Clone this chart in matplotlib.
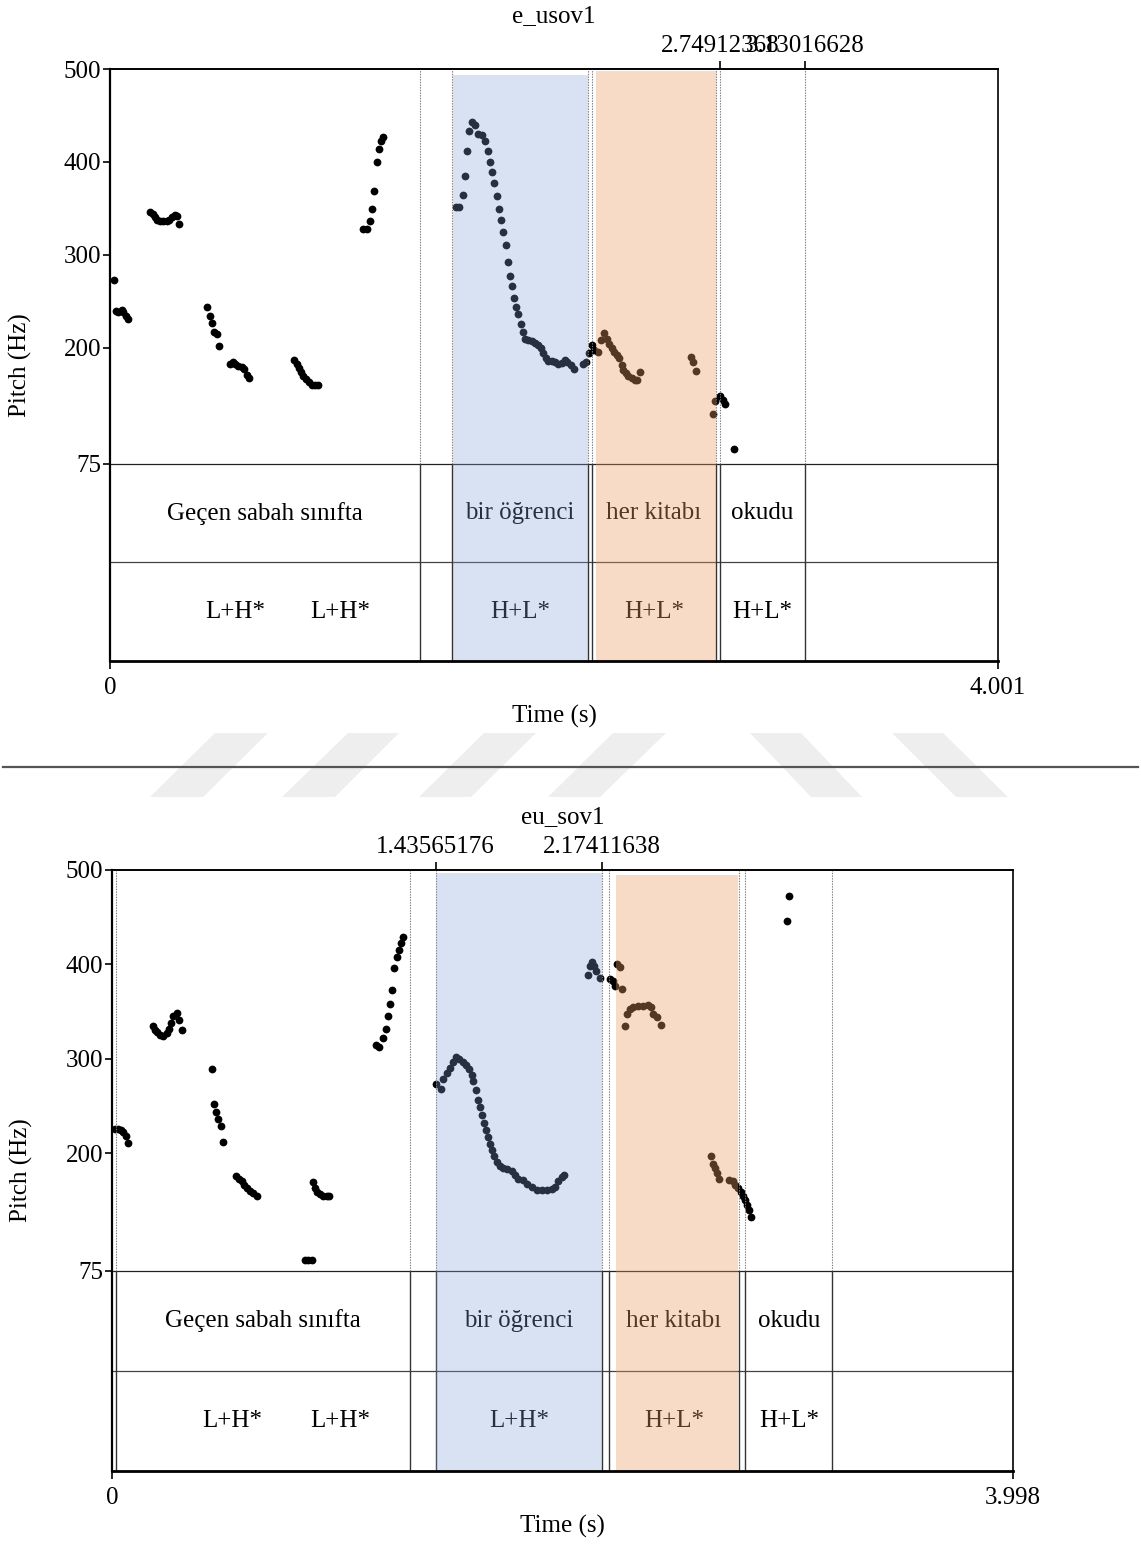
import matplotlib.pyplot as plt
from matplotlib.patches import Rectangle, Polygon

plt.rcParams['font.family'] = ['Liberation Serif', 'DejaVu Serif']
plt.rcParams['font.size'] = 18

# ---------------- data: upper panel (e_usov1) ----------------
top_dur = 4.001
top_t = [0.018, 0.027, 0.037, 0.053, 0.060, 0.072, 0.082,
         0.180, 0.192, 0.203, 0.213, 0.225, 0.240, 0.255, 0.267, 0.278, 0.293, 0.303, 0.311,
         0.438, 0.451, 0.461, 0.470, 0.481, 0.491,
         0.541, 0.553, 0.563, 0.578, 0.593, 0.604, 0.616, 0.626,
         0.829, 0.841, 0.852, 0.861, 0.871, 0.883, 0.897, 0.909, 0.924, 0.939,
         1.141, 1.157, 1.171, 1.182, 1.191, 1.202, 1.212, 1.221, 1.231,
         1.559, 1.574, 1.589, 1.600, 1.610, 1.619, 1.631, 1.645, 1.659, 1.675,
         1.690, 1.702, 1.712, 1.720, 1.730, 1.742, 1.751, 1.760, 1.769, 1.783,
         1.792, 1.801, 1.810, 1.820, 1.829, 1.840, 1.850, 1.859, 1.870, 1.885,
         1.900, 1.915, 1.930, 1.941, 1.952, 1.964, 1.975, 1.990, 2.005, 2.020,
         2.035, 2.050, 2.060, 2.076, 2.091, 2.130, 2.145, 2.158, 2.173, 2.181,
         2.200, 2.212, 2.226, 2.238, 2.250, 2.260, 2.271, 2.283, 2.293, 2.306,
         2.313, 2.325, 2.335, 2.351, 2.365, 2.376, 2.388,
         2.616, 2.628, 2.640, 2.716, 2.726, 2.748, 2.761, 2.772, 2.811]
top_hz = [273, 240, 238, 241, 239, 234, 231,
          346, 344, 341, 338, 336, 336, 336, 338, 341, 343, 342, 333,
          244, 234, 227, 217, 215, 202,
          183, 185, 183, 180, 179, 177, 171, 168,
          187, 183, 178, 174, 170, 166, 163, 160, 160, 160,
          328, 328, 336, 349, 369, 400, 414, 423, 427,
          351, 351, 364, 385, 412, 433, 443, 440, 430, 429,
          423, 412, 400, 389, 377, 363, 349, 337, 325, 311,
          292, 277, 266, 254, 244, 236, 226, 217, 209, 208,
          207, 205, 203, 200, 194, 189, 186, 186, 185, 183,
          184, 187, 185, 182, 177, 183, 185, 194, 203, 198,
          195, 208, 216, 209, 204, 200, 196, 192, 189, 182,
          176, 173, 170, 167, 165, 165, 174,
          190, 185, 175, 129, 143, 148, 144, 140, 91]
top_bounds = [1.397, 1.541, 2.154, 2.172, 2.730, 2.74912368, 3.13016628]
top_words = ["Geçen sabah sınıfta", "bir öğrenci", "her kitabı", "okudu"]
top_word_spans = [(0.0, 1.397), (1.541, 2.154), (2.172, 2.730), (2.749, 3.130)]
top_tones = ["L+H*", "L+H*", "H+L*", "H+L*", "H+L*"]
top_tone_t = [0.563, 1.036, 1.847, 2.451, 2.940]
top_marks = [2.74912368, 3.13016628]
top_mark_labels = ["2.74912368", "3.13016628"]
top_blue = (1.545, 2.154, 493.5)
top_orange = (2.190, 2.730, 497.8)

# ---------------- data: lower panel (eu_sov1) ----------------
bot_dur = 3.998
bot_t = [0.013, 0.028, 0.039, 0.050, 0.062, 0.072,
         0.181, 0.191, 0.201, 0.213, 0.228, 0.243, 0.254, 0.262, 0.272, 0.287, 0.299, 0.312,
         0.442, 0.453, 0.461, 0.472, 0.482, 0.491,
         0.550, 0.565, 0.576, 0.586, 0.598, 0.612, 0.627, 0.642,
         0.856, 0.871, 0.886,
         0.891, 0.901, 0.911, 0.923, 0.938, 0.953, 0.964,
         1.171, 1.186, 1.204, 1.214, 1.223, 1.234, 1.244, 1.253, 1.263, 1.274, 1.283, 1.293,
         1.438, 1.459, 1.470, 1.485, 1.500, 1.512, 1.526, 1.541, 1.556, 1.571,
         1.585, 1.596, 1.603, 1.615, 1.623, 1.633, 1.640, 1.651, 1.660, 1.670,
         1.677, 1.688, 1.696, 1.707, 1.722, 1.736, 1.754, 1.774, 1.788, 1.803,
         1.822, 1.840, 1.862, 1.885, 1.907, 1.929, 1.951, 1.966, 1.980, 1.995, 2.006,
         2.113, 2.121, 2.129, 2.137, 2.146, 2.165,
         2.210, 2.224, 2.232,
         2.242, 2.254, 2.264, 2.276, 2.284, 2.299, 2.313, 2.335, 2.358, 2.380,
         2.392, 2.402, 2.417, 2.435,
         2.657, 2.666, 2.676, 2.686, 2.695, 2.739, 2.754, 2.764,
         2.779, 2.790, 2.799, 2.809, 2.819, 2.828, 2.836,
         2.994, 3.004]
bot_hz = [225, 225, 224, 222, 218, 211,
          335, 330, 328, 325, 324, 327, 332, 338, 345, 348, 341, 330,
          289, 252, 244, 236, 229, 212,
          176, 173, 170, 166, 163, 160, 158, 155,
          87, 87, 87,
          169, 163, 159, 157, 155, 154, 154,
          314, 312, 322, 331, 345, 358, 373, 396, 408, 415, 423, 429,
          273, 268, 279, 285, 290, 297, 302, 300, 297, 293,
          289, 283, 276, 267, 256, 249, 240, 232, 224, 217,
          210, 203, 197, 191, 186, 184, 183, 181, 177, 173,
          171, 167, 164, 161, 161, 161, 162, 164, 170, 175, 177,
          389, 398, 403, 398, 393, 386,
          385, 382, 377,
          400, 397, 374, 335, 347, 353, 355, 356, 356, 357,
          355, 347, 344, 336,
          197, 188, 184, 179, 173, 171, 170, 166,
          163, 159, 155, 150, 145, 140, 132,
          446, 472]
bot_bounds = [0.018, 1.322, 1.43565176, 2.17411638, 2.207, 2.780, 2.811, 3.197]
bot_words = ["Geçen sabah sınıfta", "bir öğrenci", "her kitabı", "okudu"]
bot_word_spans = [(0.018, 1.322), (1.436, 2.174), (2.207, 2.780), (2.811, 3.197)]
bot_tones = ["L+H*", "L+H*", "L+H*", "H+L*", "H+L*"]
bot_tone_t = [0.532, 1.012, 1.805, 2.494, 3.004]
bot_marks = [1.43565176, 2.17411638]
bot_mark_labels = ["1.43565176", "2.17411638"]
bot_blue = (1.4357, 2.1741, 496.8)
bot_orange = (2.2365, 2.778, 494.7)

# tier layout in pitch units (pitch area 75-500 Hz, two text tiers below)
TIER1 = -31
TIER_BOTTOM = -137

W, H = 1141, 1545
fig = plt.figure(figsize=(W / 100, H / 100), dpi=100)

# faint watermark stripes and the separator line, in pixel coordinates
bg = fig.add_axes([0, 0, 1, 1], zorder=-5)
bg.set_xlim(0, W)
bg.set_ylim(H, 0)
bg.axis('off')
stripes = [((215, 268), (150, 203)), ((348, 399), (282, 335)),
           ((484, 536), (419, 471)), ((613, 666), (548, 600)),
           ((750, 801), (811, 862)), ((892, 943), (956, 1008))]
for (t0, t1), (b0, b1) in stripes:
    bg.add_patch(Polygon([(t0, 733), (t1, 733), (b1, 797), (b0, 797)],
                         closed=True, color='#eeeeee', lw=0))
bg.plot([3, 1138], [767, 767], color='#555555', lw=1.6)


def draw_panel(rect, title, dur, t, hz, bounds, words, spans, tones, tone_t,
               marks, mark_labels, blue, orange, title_off):
    ax = fig.add_axes(rect)
    ax.set_xlim(0, dur)
    ax.set_ylim(TIER_BOTTOM, 500)

    ax.plot(t, hz, 'o', color='black', ms=5.6, mew=0, zorder=2)

    # tiers
    ax.axhline(75, color='#222222', lw=0.9, zorder=2)
    ax.axhline(TIER1, color='#444444', lw=0.9, zorder=2)
    ax.vlines(bounds, 75, 500, colors='#777777', lw=0.8,
              linestyles=(0, (1.2, 1.2)), zorder=2)
    ax.vlines(bounds, TIER_BOTTOM, 75, colors='#333333', lw=1.0, zorder=2)

    for w, (a, b) in zip(words, spans):
        ax.text((a + b) / 2, (75 + TIER1) / 2, w, ha='center', va='center', zorder=2)
    for lab, x in zip(tones, tone_t):
        ax.text(x, (TIER1 + TIER_BOTTOM) / 2, lab, ha='center', va='center', zorder=2)

    # translucent highlight boxes laid over points and labels
    ax.add_patch(Rectangle((blue[0], TIER_BOTTOM), blue[1] - blue[0], blue[2] - TIER_BOTTOM,
                           facecolor='#84a1d7', alpha=0.30, lw=0, zorder=3))
    ax.add_patch(Rectangle((orange[0], TIER_BOTTOM), orange[1] - orange[0],
                           orange[2] - TIER_BOTTOM,
                           facecolor='#ec9c62', alpha=0.36, lw=0, zorder=3))

    ax.set_yticks([75, 200, 300, 400, 500])
    ax.set_xticks([0, dur], labels=['0', f'{dur}'])
    ax.tick_params(axis='y', direction='out', length=5, width=1.2, pad=1.5)
    ax.tick_params(axis='x', direction='out', length=6, width=1.2, pad=5.5)

    sec = ax.secondary_xaxis('top')
    sec.set_xticks(marks, labels=mark_labels)
    sec.tick_params(direction='out', length=6, width=1.2, pad=2.5)
    sec.spines['top'].set_linewidth(1.2)

    for side, lw in [('top', 1.2), ('right', 1.2), ('left', 1.6), ('bottom', 2.0)]:
        ax.spines[side].set_linewidth(lw)
        ax.spines[side].set_zorder(4)

    ax.set_ylabel('Pitch (Hz)')
    ax.yaxis.set_label_coords(-0.101, 0.5)
    ax.yaxis.label.set_va('center')
    ax.set_xlabel('Time (s)')
    ax.xaxis.set_label_coords(0.5, -0.093)
    ax.xaxis.label.set_va('center')

    ax.text(0.5, 1 + title_off, title, ha='center', va='center', transform=ax.transAxes)
    return ax


draw_panel([110 / W, 1 - 661 / H, 888 / W, 592 / H], 'e_usov1', top_dur,
           top_t, top_hz, top_bounds, top_words, top_word_spans, top_tones, top_tone_t,
           top_marks, top_mark_labels, top_blue, top_orange, 53 / 592)
draw_panel([112 / W, 1 - 1471 / H, 901 / W, 601 / H], 'eu_sov1', bot_dur,
           bot_t, bot_hz, bot_bounds, bot_words, bot_word_spans, bot_tones, bot_tone_t,
           bot_marks, bot_mark_labels, bot_blue, bot_orange, 53 / 601)

fig.savefig('out.png', dpi=100)
